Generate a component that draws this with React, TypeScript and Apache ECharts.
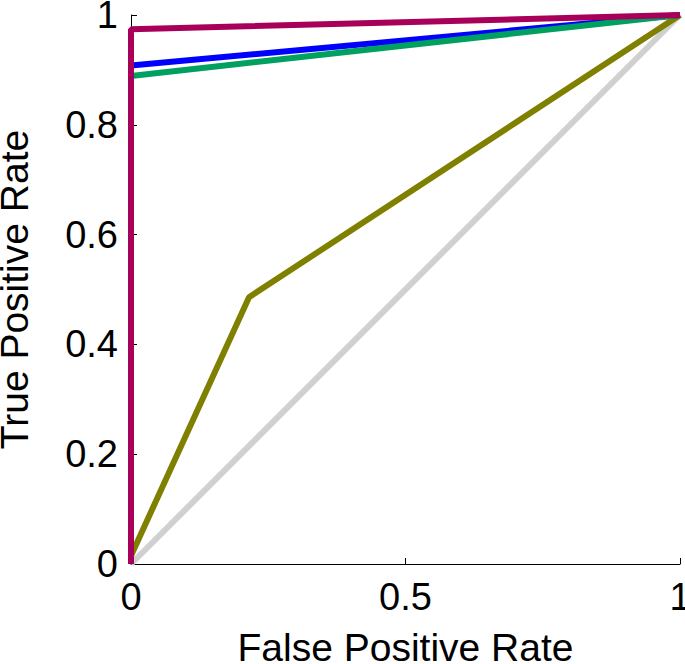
import React, { useEffect, useRef } from "react";
import * as echarts from "echarts";

const xTicks = [0, 0.5, 1];
const yTicks = [0, 0.2, 0.4, 0.6, 0.8, 1];

const chanceFpr = [0, 1];
const chanceTpr = [0, 1];
const oliveFpr = [0, 0.215, 1];
const oliveTpr = [0.015, 0.486, 1];
const blueFpr = [0, 1];
const blueTpr = [0.908, 1];
const greenFpr = [0, 1];
const greenTpr = [0.889, 1];
const redFpr = [0, 0, 1];
const redTpr = [0, 0.974, 1];

const pairs = (xs: number[], ys: number[]) => xs.map((x, i) => [x, ys[i]]);

const FONT = "Liberation Sans, Arial, Helvetica, sans-serif";

export default function App() {
  const ref = useRef<HTMLDivElement>(null);
  useEffect(() => {
    if (!ref.current) return;
    const chart = echarts.init(ref.current, undefined, { renderer: "svg" });
    const mk = (name: string, xs: number[], ys: number[], color: string) => ({
      name,
      type: "line",
      data: pairs(xs, ys),
      showSymbol: false,
      symbol: "none",
      clip: false,
      lineStyle: { color, width: 6 },
    });
    chart.setOption({
      animation: false,
      backgroundColor: "#ffffff",
      grid: {
        left: 131,
        right: 5,
        top: 15,
        bottom: 100,
        containLabel: false,
        outerBoundsMode: "none",
      },
      xAxis: {
        type: "value",
        min: xTicks[0],
        max: xTicks[xTicks.length - 1],
        interval: 0.5,
        name: "False Positive Rate",
        nameLocation: "middle",
        nameGap: 64,
        nameTextStyle: { fontFamily: FONT, fontSize: 39, color: "#000" },
        axisLine: { show: true, lineStyle: { color: "#000", width: 1 } },
        axisTick: { show: true, inside: true, length: 6, lineStyle: { color: "#000" } },
        axisLabel: {
          fontFamily: FONT,
          fontSize: 38,
          color: "#000",
          margin: 14,
          showMinLabel: true,
          showMaxLabel: true,
        },
        splitLine: { show: false },
      },
      yAxis: {
        type: "value",
        min: yTicks[0],
        max: yTicks[yTicks.length - 1],
        interval: 0.2,
        name: "True Positive Rate",
        nameLocation: "middle",
        nameGap: 97,
        nameTextStyle: { fontFamily: FONT, fontSize: 39, color: "#000" },
        axisLine: { show: true, lineStyle: { color: "#000", width: 1 } },
        axisTick: { show: true, inside: true, length: 6, lineStyle: { color: "#000" } },
        axisLabel: {
          fontFamily: FONT,
          fontSize: 38,
          color: "#000",
          margin: 13,
          showMinLabel: true,
          showMaxLabel: true,
        },
        splitLine: { show: false },
      },
      series: [
        mk("Chance", chanceFpr, chanceTpr, "#d0d0d0"),
        mk("Olive", oliveFpr, oliveTpr, "#808000"),
        mk("Blue", blueFpr, blueTpr, "#0000ff"),
        mk("Green", greenFpr, greenTpr, "#00a060"),
        mk("Red", redFpr, redTpr, "#a8005a"),
      ],
    });
    return () => chart.dispose();
  }, []);
  return (
    <div
      ref={ref}
      style={{ position: "absolute", left: 0, top: 0, width: 685, height: 664 }}
    />
  );
}
